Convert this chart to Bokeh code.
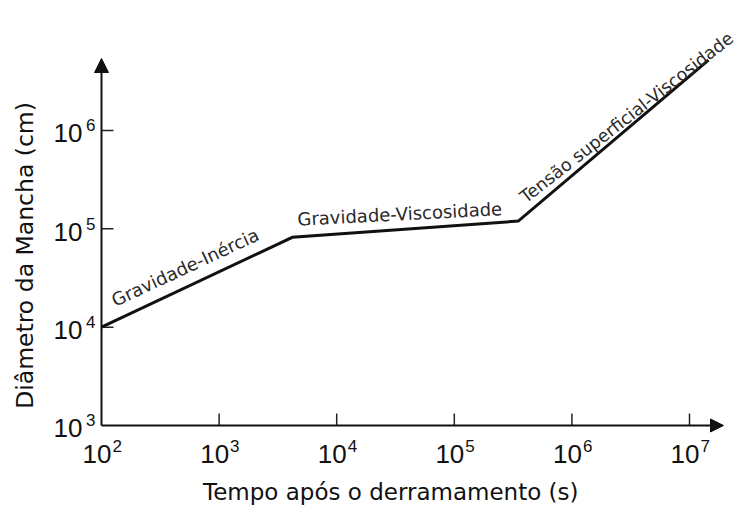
import numpy as np
from bokeh.plotting import figure
from bokeh.models import (Range1d, Label, LabelSet, ColumnDataSource, Arrow,
                          NormalHead)
from bokeh.core.properties import value
from bokeh.embed import file_html
from bokeh.resources import INLINE

# ---- data ----
time_s = [1e2, 4.2e3, 3.5e5, 1.45e7]            # Tempo após o derramamento (s)
diameter_cm = [1e4, 8.2e4, 1.2e5, 5.2e6]        # Diâmetro da Mancha (cm)
regime_labels = ["Gravidade-Inércia", "Gravidade-Viscosidade",
                 "Tensão superficial-Viscosidade"]
x_tick_exponents = [2, 3, 4, 5, 6, 7]
y_tick_exponents = [3, 4, 5, 6]
x_title = "Tempo após o derramamento (s)"
y_title = "Diâmetro da Mancha (cm)"

# axis origin and arrow tips
X0, Y0 = 10**2, 10**3
X_TIP, Y_TIP = 10**7.289, 10**6.732

# the plotting frame fills the whole canvas; axes are drawn as arrows
p = figure(width=736, height=508, x_axis_type="log", y_axis_type="log",
           x_range=Range1d(10**1.14116, 10**7.39966),
           y_range=Range1d(10**2.15593, 10**7.32203),
           x_axis_location=None, y_axis_location=None,
           output_backend="svg", toolbar_location=None,
           min_border=0)
p.outline_line_color = None
p.grid.visible = False
p.background_fill_color = "white"
p.border_fill_color = "white"

INK = "#111111"

# axes with arrow heads
p.add_layout(Arrow(end=NormalHead(size=14, fill_color=INK, line_color=INK),
                   x_start=X0, y_start=Y0, x_end=X0, y_end=Y_TIP,
                   line_color=INK, line_width=2))
p.add_layout(Arrow(end=NormalHead(size=13, fill_color=INK, line_color=INK),
                   x_start=X0, y_start=Y0, x_end=X_TIP, y_end=Y0,
                   line_color=INK, line_width=2))

# tick marks (pointing inward)
xt = [10.0**k for k in x_tick_exponents[1:]]
yt = [10.0**k for k in y_tick_exponents[1:]]
p.ray(x=xt, y=[Y0] * len(xt), length=12, length_units="screen",
      angle=np.pi / 2, line_color="#222222", line_width=1.5)
p.ray(x=[X0] * len(yt), y=yt, length=12, length_units="screen",
      angle=0, line_color="#222222", line_width=1.5)

# main curve
p.line(time_s, diameter_cm, line_width=3, line_color=INK, line_join="miter")

# tick labels 10^k
xsrc = ColumnDataSource(dict(x=[10.0**k for k in x_tick_exponents],
                             y=[Y0] * len(x_tick_exponents),
                             base=["10"] * len(x_tick_exponents),
                             exp=[str(k) for k in x_tick_exponents]))
ysrc = ColumnDataSource(dict(x=[X0] * len(y_tick_exponents),
                             y=[10.0**k for k in y_tick_exponents],
                             base=["10"] * len(y_tick_exponents),
                             exp=[str(k) for k in y_tick_exponents]))
common = dict(text_font=value("Liberation Sans"), text_color=INK,
              text_baseline="alphabetic")
p.add_layout(LabelSet(source=xsrc, x="x", y="y", text="base", text_align="right",
                      x_offset=10, y_offset=-38, text_font_size="26px", **common))
p.add_layout(LabelSet(source=xsrc, x="x", y="y", text="exp", text_align="left",
                      x_offset=11, y_offset=-27, text_font_size="17px", **common))
p.add_layout(LabelSet(source=ysrc, x="x", y="y", text="base", text_align="right",
                      x_offset=-19, y_offset=-12, text_font_size="26px", **common))
p.add_layout(LabelSet(source=ysrc, x="x", y="y", text="exp", text_align="right",
                      x_offset=-6, y_offset=-1, text_font_size="17px", **common))

# regime labels along the curve
angles_deg = [25, 3, 38]
offsets = [(11, 26), (5, 18), (4, 22)]
sizes = ["18px", "18px", "17.5px"]
for i, txt in enumerate(regime_labels):
    p.add_layout(Label(x=time_s[i], y=diameter_cm[i], text=txt,
                       x_offset=offsets[i][0], y_offset=offsets[i][1],
                       angle=np.deg2rad(angles_deg[i]),
                       text_font="DejaVu Sans", text_font_size=sizes[i],
                       text_color="#2a2a2a", text_align="left",
                       text_baseline="alphabetic"))

# axis titles
p.add_layout(Label(x=10**4.46, y=Y0, text=x_title, y_offset=-67,
                   text_font="DejaVu Sans", text_font_size="23px",
                   text_color=INK, text_align="center",
                   text_baseline="alphabetic"))
p.add_layout(Label(x=X0, y=10**4.729, text=y_title, x_offset=-76,
                   angle=np.pi / 2,
                   text_font="DejaVu Sans", text_font_size="23.5px",
                   text_color=INK, text_align="center",
                   text_baseline="middle"))

open("out.html", "w").write(file_html(p, INLINE))
